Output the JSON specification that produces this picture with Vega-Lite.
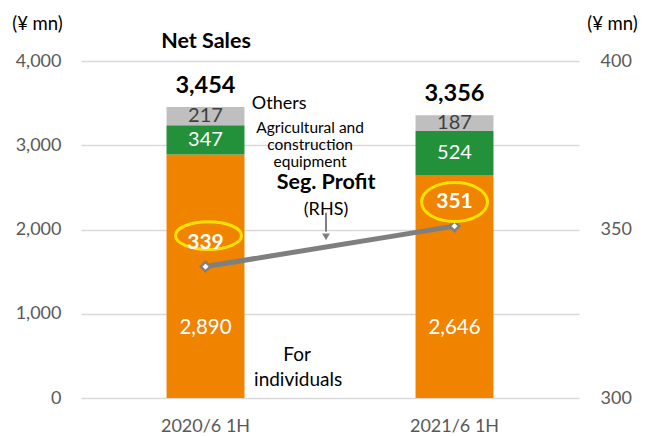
{
  "$schema": "https://vega.github.io/schema/vega-lite/v6.json",
  "width": 498,
  "height": 337,
  "autosize": "none",
  "padding": {"left": 81, "top": 61, "right": 66, "bottom": 38},
  "background": "white",
  "config": {
    "view": {"stroke": null},
    "font": "Lato",
    "text": {"font": "Lato"},
    "axis": {"labelFont": "Lato", "titleFont": "Lato"}
  },
  "datasets": {
    "sales": [
      {"period": "2020/6 1H", "segment": "For individuals", "value": 2890, "ord": 1},
      {"period": "2020/6 1H", "segment": "Agricultural and construction equipment", "value": 347, "ord": 2},
      {"period": "2020/6 1H", "segment": "Others", "value": 217, "ord": 3},
      {"period": "2021/6 1H", "segment": "For individuals", "value": 2646, "ord": 1},
      {"period": "2021/6 1H", "segment": "Agricultural and construction equipment", "value": 524, "ord": 2},
      {"period": "2021/6 1H", "segment": "Others", "value": 187, "ord": 3}
    ],
    "totals": [
      {"period": "2020/6 1H", "total": 3454},
      {"period": "2021/6 1H", "total": 3356}
    ],
    "profit": [
      {"period": "2020/6 1H", "profit": 339},
      {"period": "2021/6 1H", "profit": 351}
    ]
  },
  "layer": [
    {
      "layer": [
        {
          "data": {"name": "sales"},
          "mark": {"type": "bar"},
          "encoding": {
            "x": {"field": "period", "type": "nominal", "sort": null,
                  "scale": {"paddingInner": 0.687, "paddingOuter": 0.3435},
                  "axis": {"title": null, "labelAngle": 0, "domain": false, "ticks": false, "labelFontSize": 18, "labelColor": "#595959", "labelPadding": 19}},
            "y": {"field": "value", "type": "quantitative", "stack": "zero",
                  "scale": {"domain": [0, 4000], "nice": false},
                  "axis": {"values": [0, 1000, 2000, 3000, 4000], "format": ",d", "domain": false, "ticks": false,
                           "grid": true, "gridColor": "#D9D9D9", "gridWidth": 1.5,
                           "labelFontSize": 18, "labelColor": "#595959", "labelPadding": 20,
                           "title": "(¥ mn)", "titleAngle": 0, "titleFontSize": 18.5, "titleFontWeight": "normal",
                           "titleColor": "#000000", "titleX": -44, "titleY": -38, "titleAlign": "center", "titleBaseline": "middle"}},
            "color": {"field": "segment", "type": "nominal", "legend": null,
                      "scale": {"domain": ["For individuals", "Agricultural and construction equipment", "Others"],
                                "range": ["#F08300", "#22913A", "#BFBFBF"]}},
            "order": {"field": "ord", "type": "quantitative"}
          }
        },
        {
          "data": {"name": "sales"},
          "transform": [
            {"stack": "value", "groupby": ["period"], "sort": [{"field": "ord"}], "as": ["s0", "s1"]},
            {"filter": "datum.segment !== 'For individuals'"},
            {"calculate": "(datum.s0 + datum.s1) / 2", "as": "mid"}
          ],
          "mark": {"type": "text", "fontSize": 20, "baseline": "middle"},
          "encoding": {
            "x": {"field": "period", "type": "nominal", "sort": null},
            "y": {"field": "mid", "type": "quantitative"},
            "text": {"field": "value", "type": "quantitative", "format": ",d"},
            "color": {"condition": {"test": "datum.segment === 'Others'", "value": "#404040"}, "value": "#FFFFFF"}
          }
        },
        {
          "data": {"name": "sales"},
          "transform": [{"filter": "datum.segment === 'For individuals'"}],
          "mark": {"type": "text", "fontSize": 20.5, "baseline": "middle", "color": "#FFFFFF"},
          "encoding": {
            "x": {"field": "period", "type": "nominal", "sort": null},
            "y": {"datum": 835},
            "text": {"field": "value", "type": "quantitative", "format": ",d"}
          }
        },
        {
          "data": {"name": "totals"},
          "mark": {"type": "text", "fontSize": 23.5, "fontWeight": "bold", "baseline": "middle", "dy": -21, "color": "#000000"},
          "encoding": {
            "x": {"field": "period", "type": "nominal", "sort": null},
            "y": {"field": "total", "type": "quantitative"},
            "text": {"field": "total", "type": "quantitative", "format": ",d"}
          }
        }
      ]
    },
    {
      "data": {"name": "profit"},
      "layer": [
        {
          "mark": {"type": "line", "color": "#7F7F7F", "strokeWidth": 5},
          "encoding": {
            "x": {"field": "period", "type": "nominal", "sort": null, "scale": {"type": "point", "padding": 0.5}, "axis": null},
            "y": {"field": "profit", "type": "quantitative", "scale": {"domain": [300, 400], "nice": false},
                  "axis": {"orient": "right", "values": [300, 350, 400], "domain": false, "ticks": false, "grid": false,
                           "labelFontSize": 18, "labelColor": "#595959", "labelPadding": 21,
                           "title": "(¥ mn)", "titleAngle": 0, "titleFontSize": 18.5, "titleFontWeight": "normal",
                           "titleColor": "#000000", "titleX": 33, "titleY": -38, "titleAlign": "center", "titleBaseline": "middle"}}
          }
        },
        {
          "mark": {"type": "point", "shape": "diamond", "size": 90, "filled": true, "fill": "#FFFFFF", "stroke": "#7F7F7F", "strokeWidth": 2.5, "opacity": 1},
          "encoding": {
            "x": {"field": "period", "type": "nominal", "sort": null},
            "y": {"field": "profit", "type": "quantitative"}
          }
        },
        {
          "mark": {"type": "point", "filled": false, "stroke": "#FFE100", "strokeWidth": 3, "size": 4356, "opacity": 1},
          "encoding": {
            "x": {"field": "period", "type": "nominal", "sort": null},
            "y": {"field": "profit", "type": "quantitative"},
            "shape": {"field": "period", "type": "nominal", "legend": null,
                      "scale": {"domain": ["2020/6 1H", "2021/6 1H"],
                                "range": ["M-0.91,-0.94A1,0.42,0,1,1,1.09,-0.94A1,0.42,0,1,1,-0.91,-0.94Z", "M-1,-0.73A1,0.59,0,1,1,1,-0.73A1,0.59,0,1,1,-1,-0.73Z"]}}
          }
        },
        {
          "mark": {"type": "text", "fontSize": 21, "fontWeight": "bold", "color": "#FFFFFF", "baseline": "middle", "dy": -24},
          "encoding": {
            "x": {"field": "period", "type": "nominal", "sort": null},
            "y": {"field": "profit", "type": "quantitative"},
            "text": {"field": "profit", "type": "quantitative"}
          }
        }
      ]
    },
    {
      "layer": [
        {
          "data": {"values": [{"px": 0.251, "py": 4229, "label": "Net Sales"}, {"px": 0.492, "py": 2553, "label": "Seg. Profit"}]},
          "mark": {"type": "text", "fontSize": 21.5, "fontWeight": "bold", "color": "#000000", "baseline": "middle", "align": "center"},
          "encoding": {
            "x": {"field": "px", "type": "quantitative", "scale": {"domain": [0, 1], "nice": false, "zero": false}, "axis": null},
            "y": {"field": "py", "type": "quantitative", "scale": {"domain": [0, 4000], "nice": false}, "axis": null},
            "text": {"field": "label"}
          }
        },
        {
          "data": {"values": [{"px": 0.343, "py": 3494, "label": "Others"}]},
          "mark": {"type": "text", "fontSize": 18, "color": "#000000", "baseline": "middle", "align": "left"},
          "encoding": {
            "x": {"field": "px", "type": "quantitative"},
            "y": {"field": "py", "type": "quantitative"},
            "text": {"field": "label"}
          }
        },
        {
          "data": {"values": [
            {"px": 0.46, "py": 3208, "label": "Agricultural and"},
            {"px": 0.46, "py": 3006, "label": "construction"},
            {"px": 0.46, "py": 2805, "label": "equipment"}
          ]},
          "mark": {"type": "text", "fontSize": 15.5, "color": "#000000", "baseline": "middle", "align": "center"},
          "encoding": {
            "x": {"field": "px", "type": "quantitative"},
            "y": {"field": "py", "type": "quantitative"},
            "text": {"field": "label"}
          }
        },
        {
          "data": {"values": [
            {"px": 0.492, "py": 2235, "label": "(RHS)"}
          ]},
          "mark": {"type": "text", "fontSize": 18, "color": "#000000", "baseline": "middle", "align": "center"},
          "encoding": {
            "x": {"field": "px", "type": "quantitative"},
            "y": {"field": "py", "type": "quantitative"},
            "text": {"field": "label"}
          }
        },
        {
          "data": {"values": [
            {"px": 0.434, "py": 514, "label": "For"},
            {"px": 0.436, "py": 217, "label": "individuals"}
          ]},
          "mark": {"type": "text", "fontSize": 19, "color": "#000000", "baseline": "middle", "align": "center"},
          "encoding": {
            "x": {"field": "px", "type": "quantitative"},
            "y": {"field": "py", "type": "quantitative"},
            "text": {"field": "label"}
          }
        },
        {
          "data": {"values": [{"px": 0.492, "y1": 2199, "y2": 1974}]},
          "mark": {"type": "rule", "color": "#7F7F7F", "strokeWidth": 2},
          "encoding": {
            "x": {"field": "px", "type": "quantitative"},
            "y": {"field": "y1", "type": "quantitative"},
            "y2": {"field": "y2"}
          }
        },
        {
          "data": {"values": [{"px": 0.492, "py": 1913}]},
          "mark": {"type": "point", "shape": "triangle-down", "size": 60, "filled": true, "color": "#7F7F7F", "opacity": 1},
          "encoding": {
            "x": {"field": "px", "type": "quantitative"},
            "y": {"field": "py", "type": "quantitative"}
          }
        }
      ]
    }
  ],
  "resolve": {"scale": {"x": "independent", "y": "independent", "color": "independent", "shape": "independent"}}
}
